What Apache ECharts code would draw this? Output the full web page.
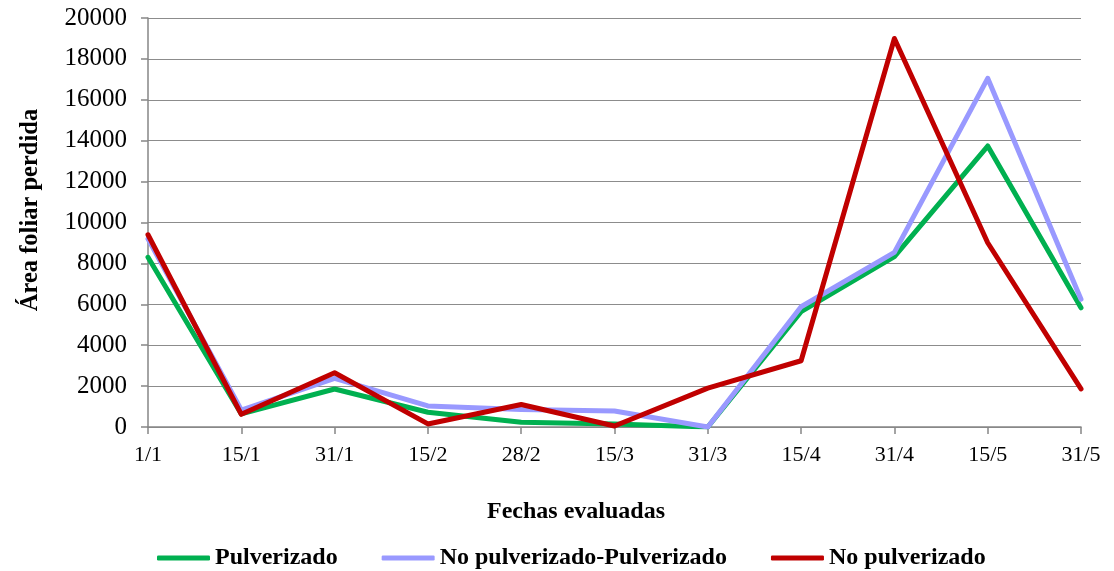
<!DOCTYPE html>
<html>
<head>
<meta charset="utf-8">
<title></title>
<script src="https://cdn.jsdelivr.net/npm/echarts@6/dist/echarts.min.js"></script>
<style>
  html, body { margin: 0; padding: 0; background: #fff; }
  #main { width: 1114px; height: 571px; }
</style>
</head>
<body>
<div id="main"></div>
<script type="text/javascript">
  // fechas evaluadas
  var fechas = ['1/1', '15/1', '31/1', '15/2', '28/2', '15/3', '31/3', '15/4', '31/4', '15/5', '31/5'];
  var pulverizado = [8300, 640, 1860, 720, 230, 150, 0, 5640, 8330, 13740, 5830];
  var noPulvPulv = [9200, 830, 2380, 1030, 850, 780, 0, 5880, 8540, 17050, 6250];
  var noPulverizado = [9400, 620, 2650, 150, 1100, 50, 1900, 3240, 19000, 9010, 1860];
  var yTicks = [0, 2000, 4000, 6000, 8000, 10000, 12000, 14000, 16000, 18000, 20000];

  var fuente = '"Liberation Serif", "Times New Roman", serif';
  var myChart = echarts.init(document.getElementById('main'));

  function serie(nombre, datos, color) {
    return {
      name: nombre,
      type: 'line',
      data: datos,
      symbol: 'none',
      lineStyle: { width: 5, color: color, cap: 'round', join: 'round' },
      itemStyle: { color: color }
    };
  }

  var option = {
    animation: false,
    textStyle: { fontFamily: fuente },
    grid: { left: 148, right: 33, top: 18, bottom: 144 },
    graphic: [
      {
        type: 'text',
        x: 31, y: 210, rotation: Math.PI / 2,
        style: {
          text: 'Área foliar perdida', fill: '#000',
          font: 'bold 24.5px ' + fuente,
          align: 'center', verticalAlign: 'middle'
        }
      },
      {
        type: 'text',
        x: 576, y: 512,
        style: {
          text: 'Fechas evaluadas', fill: '#000',
          font: 'bold 24px ' + fuente,
          align: 'center', verticalAlign: 'middle'
        }
      }
    ],
    legend: {
      top: 541,
      left: 152,
      itemWidth: 53,
      itemHeight: 5,
      itemGap: 44,
      icon: 'roundRect',
      textStyle: { fontFamily: fuente, fontSize: 24, fontWeight: 'bold', color: '#000', padding: [0, 0, 0, 0] },
      data: ['Pulverizado', 'No pulverizado-Pulverizado', 'No pulverizado']
    },
    xAxis: {
      type: 'category',
      data: fechas,
      boundaryGap: false,
      axisLine: { lineStyle: { color: '#868686', width: 1.5 } },
      axisTick: { show: true, length: 7, lineStyle: { color: '#868686', width: 1.5 } },
      axisLabel: { fontFamily: fuente, fontSize: 22, color: '#000', margin: 17 }
    },
    yAxis: {
      type: 'value',
      min: yTicks[0],
      max: yTicks[yTicks.length - 1],
      interval: 2000,
      axisLine: { show: true, lineStyle: { color: '#868686', width: 1.5 } },
      axisTick: { show: true, length: 7, lineStyle: { color: '#868686', width: 1.5 } },
      axisLabel: {
        fontFamily: fuente, fontSize: 25, color: '#000', margin: 21,
        formatter: function (v) { return String(v); }
      },
      splitLine: { lineStyle: { color: '#8c8c8c', width: 1.2 } }
    },
    series: [
      serie('Pulverizado', pulverizado, '#00b050'),
      serie('No pulverizado-Pulverizado', noPulvPulv, '#9999ff'),
      serie('No pulverizado', noPulverizado, '#c00000')
    ]
  };
  myChart.setOption(option);
</script>
</body>
</html>
